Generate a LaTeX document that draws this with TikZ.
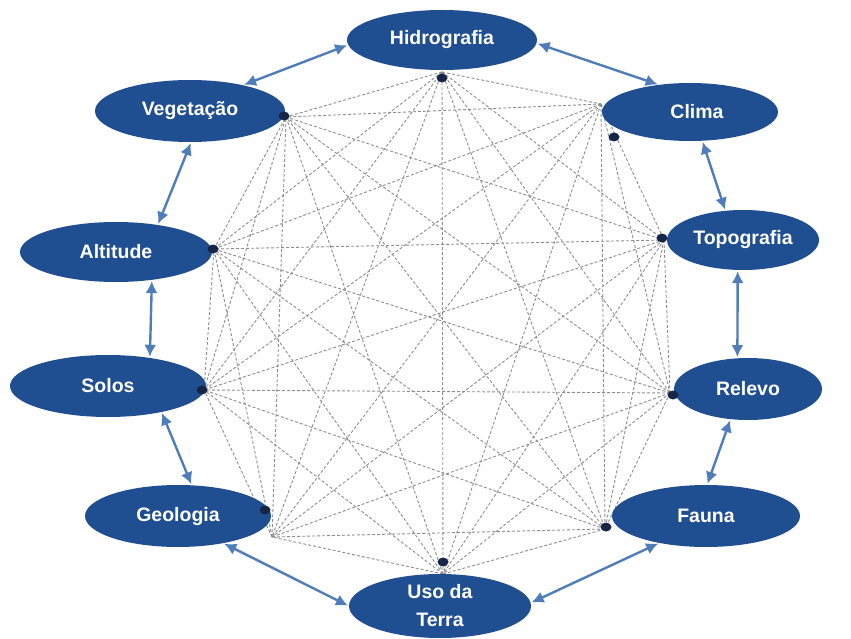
\documentclass[tikz,border=0pt]{standalone}
\usepackage{fontspec}
\setmainfont{Liberation Sans}
\usetikzlibrary{arrows.meta,shapes.geometric}
\definecolor{ovalblue}{RGB}{31,78,145}
\definecolor{arrowblue}{RGB}{78,125,185}
\definecolor{dotnavy}{RGB}{22,38,72}
\definecolor{linkgray}{RGB}{140,140,140}
\begin{document}
\begin{tikzpicture}[x=1pt,y=-1pt,
  topic/.style={ellipse,fill=ovalblue,text=white,
    font=\bfseries\fontsize{19.5}{21}\selectfont,inner sep=0pt,align=center},
  link/.style={draw=linkgray,line width=0.9pt,dash pattern=on 3pt off 2pt},
  tie/.style={draw=arrowblue,line width=2.4pt,shorten <=1pt,shorten >=1pt,
    {Latex[length=12pt,width=12pt]}-{Latex[length=12pt,width=12pt]}},
  knot/.style={ellipse,fill=dotnavy,minimum width=11pt,minimum height=9pt,inner sep=0pt}]
\useasboundingbox (0,0) rectangle (851,639);

% meeting points of the dashed web
\coordinate (p1) at (442,72);
\coordinate (p2) at (601,104);
\coordinate (p3) at (664,240);
\coordinate (p4) at (670,393);
\coordinate (p5) at (605,529);
\coordinate (p6) at (443,574);
\coordinate (p7) at (272,537);
\coordinate (p8) at (204,390);
\coordinate (p9) at (214,249);
\coordinate (p10) at (286,117);

% every point linked to every other one
\foreach \i in {1,...,9}{
  \pgfmathtruncatemacro\k{\i+1}
  \foreach \j in {\k,...,10}{
    \draw[link] (p\i) -- (p\j);
  }
}

% the ten themes
\node[topic,minimum width=190pt,minimum height=60pt] (H) at (442,40) {Hidrografia};
\node[topic,minimum width=176pt,minimum height=58pt] (C) at (690,112) {\hspace*{14pt}Clima};
\node[topic,minimum width=152pt,minimum height=60pt] (T) at (743,240) {Topografia};
\node[topic,minimum width=148pt,minimum height=62pt] (R) at (748,389) {Relevo};
\node[topic,minimum width=188pt,minimum height=62pt] (F) at (706,516) {Fauna};
\node[topic,minimum width=182pt,minimum height=64pt,
  font=\bfseries\fontsize{19.5}{28}\selectfont] (U) at (440,606) {Uso da\\Terra};
\node[topic,minimum width=186pt,minimum height=62pt] (G) at (178,516) {Geologia};
\node[topic,minimum width=196pt,minimum height=62pt] (S) at (108,386) {Solos};
\node[topic,minimum width=192pt,minimum height=60pt] (A) at (116,252) {Altitude};
\node[topic,minimum width=190pt,minimum height=62pt] (V) at (190,111) {Vegetação};

% small dots beside each theme
\node[knot] (d1) at (442,78) {};
\node[knot] (d2) at (614,137) {};
\node[knot] (d3) at (662,238) {};
\node[knot] (d4) at (673,395) {};
\node[knot] (d5) at (606,527) {};
\node[knot] (d6) at (443,562) {};
\node[knot] (d7) at (265,510) {};
\node[knot] (d8) at (202,390) {};
\node[knot] (d9) at (213,249) {};
\node[knot] (d10) at (284,116) {};

% two-way arrows between neighbours
\draw[tie] (H.183) -- (V.26);
\draw[tie] (H.-2) -- (C.139);
\draw[tie] (C.-67) -- (T.121);
\draw[tie] (T.-100) -- (R.109);
\draw[tie] (R.-120) -- (F.88);
\draw[tie] (F.-150) -- (U.2);
\draw[tie] (U.180) -- (G.-31);
\draw[tie] (G.66) -- (S.-26);
\draw[tie] (S.34) -- (A.-38);
\draw[tie] (A.33) -- (V.-88);
\end{tikzpicture}
\end{document}
